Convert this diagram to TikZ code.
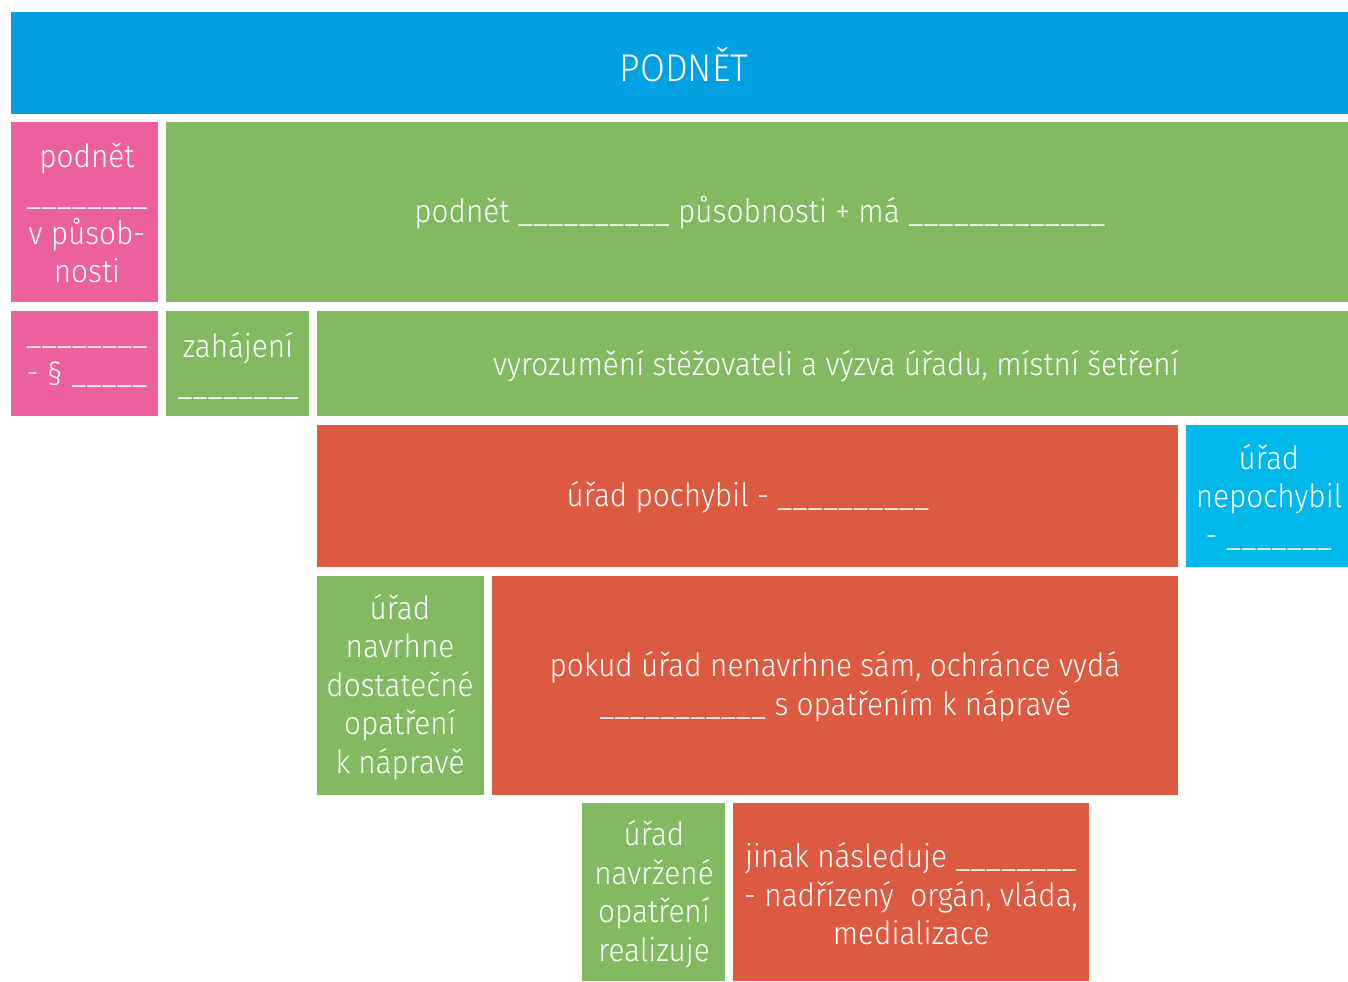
\documentclass[tikz,border=0pt]{standalone}
\usepackage{fontspec}
\setmainfont{Fira Sans}[UprightFont={* Light}, FakeStretch=0.93]
\usetikzlibrary{positioning}
\definecolor{podnetblue}{RGB}{0,160,227}
\definecolor{lightblue}{RGB}{0,184,236}
\definecolor{rowpink}{RGB}{236,96,158}
\definecolor{rowgreen}{RGB}{130,186,98}
\definecolor{rowred}{RGB}{220,90,65}

\begin{document}
\begin{tikzpicture}[x=0.75pt, y=-0.75pt,
    every node/.style={text=white, align=center, inner sep=0pt},
    celltext/.style={font=\fontsize{24}{28.9}\selectfont},
    titletext/.style={font=\fontsize{29}{34}\selectfont}]
  \useasboundingbox (0,0) rectangle (1348,981);
  % title row
  \fill[podnetblue] (11,12) rectangle (1348,114);
  \node[titletext, anchor=base] (title) at (684,81) {PODNĚT};
  % second row
  \fill[rowpink] (11,122) rectangle (158,302);
  \fill[rowgreen] (166,122) rectangle (1348,302);
  \node[celltext] (outside) at (87,213) {podnět\\\_\_\_\_\_\_\_\_\\v působ-\\nosti};
  \node[celltext] (inside) at (760,213) {podnět \_\_\_\_\_\_\_\_\_\_ působnosti + má \_\_\_\_\_\_\_\_\_\_\_\_\_};
  % third row
  \fill[rowpink] (11,311) rectangle (158,416);
  \fill[rowgreen] (166,311) rectangle (309,416);
  \fill[rowgreen] (317,311) rectangle (1348,416);
  \node[celltext] (paragraph) at (87,366) {\_\_\_\_\_\_\_\_\\- § \_\_\_\_\_};
  \node[celltext] (start) at (238,366) {zahájení\\\_\_\_\_\_\_\_\_};
  \node[celltext] (notice) at (836,366) {vyrozumění stěžovateli a výzva úřadu, místní šetření};
  % fourth row
  \fill[rowred] (317,425) rectangle (1178,567);
  \fill[lightblue] (1186,425) rectangle (1348,567);
  \node[celltext] (fault) at (748,497) {úřad pochybil - \_\_\_\_\_\_\_\_\_\_};
  \node[celltext] (nofault) at (1269,497) {úřad\\nepochybil\\- \_\_\_\_\_\_\_};
  % fifth row
  \fill[rowgreen] (317,576) rectangle (484,795);
  \fill[rowred] (492,576) rectangle (1178,795);
  \node[celltext] (proposes) at (400,687) {úřad\\navrhne\\dostatečné\\opatření\\k nápravě};
  \node[celltext] (ombudsman) at (835,687) {pokud úřad nenavrhne sám, ochránce vydá\\\_\_\_\_\_\_\_\_\_\_\_ s opatřením k nápravě};
  % sixth row
  \fill[rowgreen] (582,803) rectangle (725,981);
  \fill[rowred] (733,803) rectangle (1089,981);
  \node[celltext] (realizes) at (654,894) {úřad\\navržené\\opatření\\realizuje};
  \node[celltext] (otherwise) at (911,894) {jinak následuje \_\_\_\_\_\_\_\_\\- nadřízený\ \ orgán, vláda,\\medializace};
\end{tikzpicture}
\end{document}
